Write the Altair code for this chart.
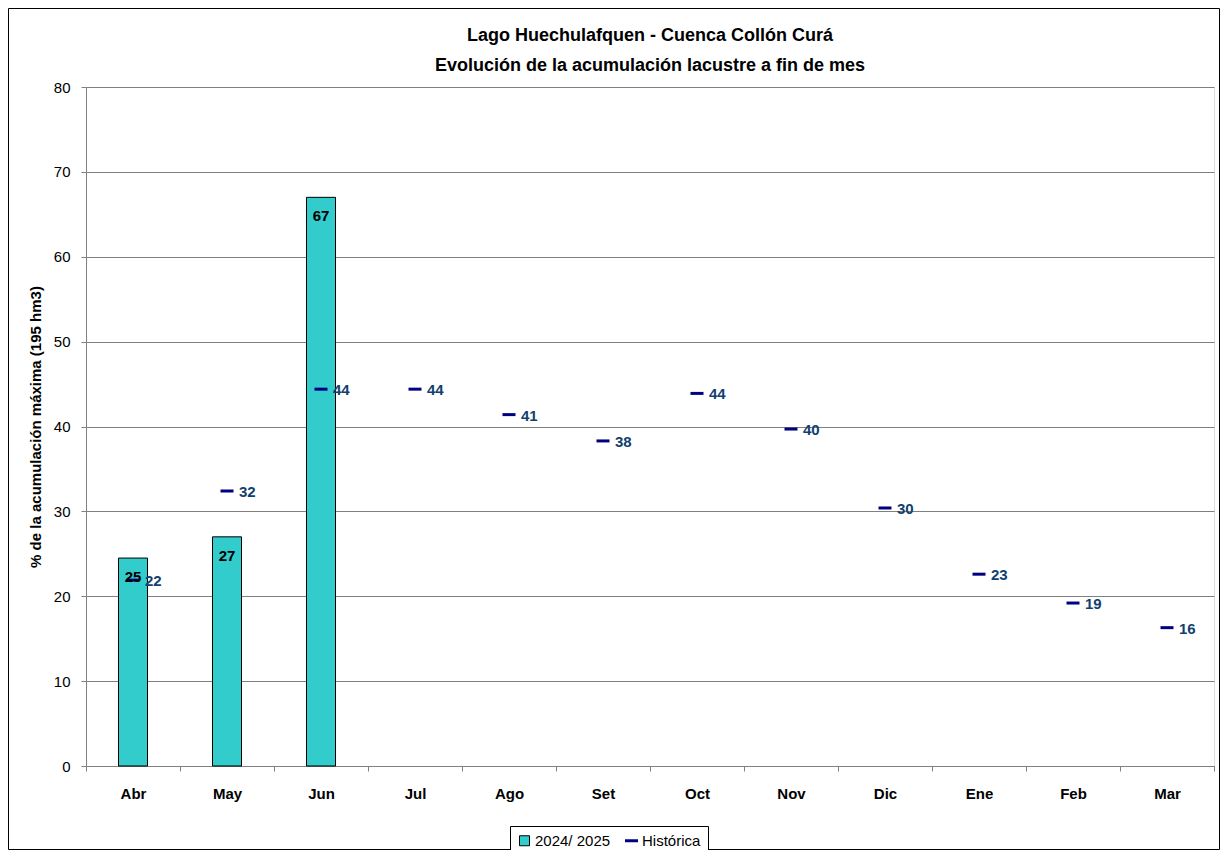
import altair as alt
import pandas as pd

months = ["Abr", "May", "Jun", "Jul", "Ago", "Set", "Oct", "Nov", "Dic", "Ene", "Feb", "Mar"]
bar_months = ["Abr", "May", "Jun"]
bar_values = [24.5, 27.0, 67.0]
hist_values = [21.9, 32.4, 44.4, 44.4, 41.4, 38.3, 43.9, 39.7, 30.4, 22.6, 19.2, 16.3]
series_names = ["2024/ 2025", "Histórica"]
title_lines = ["Lago Huechulafquen - Cuenca Collón Curá", "Evolución de la acumulación lacustre a fin de mes"]
y_title = "% de la acumulación máxima (195 hm3)"

FONT = "Liberation Sans"
TEAL = "#33CCCC"
NAVY = "#000080"
LABEL_BLUE = "#123F6E"

bars = pd.DataFrame({"mes": bar_months, "valor": bar_values, "serie": series_names[0]})
hist = pd.DataFrame({"mes": months, "valor": hist_values, "serie": series_names[1]})

W, H = 1128, 679
PAD = {"left": 78, "top": 79, "right": 6, "bottom": 84}

x_enc = alt.X(
    "mes:N",
    sort=months,
    scale=alt.Scale(domain=months, paddingInner=0, paddingOuter=0),
    axis=alt.Axis(
        title=None, labelAngle=0, tickBand="extent", tickSize=5, tickColor="#808080",
        domainColor="#808080", labelFont=FONT, labelFontSize=15, labelFontWeight="bold",
        labelColor="black", labelPadding=15,
    ),
)
y_enc = alt.Y(
    "valor:Q",
    scale=alt.Scale(domain=[0, 80], nice=False),
    axis=alt.Axis(
        title=y_title, values=list(range(0, 81, 10)), tickSize=5, tickColor="#808080",
        domainColor="#808080", gridColor="#808080", gridWidth=1, labelFont=FONT,
        labelFontSize=15, labelColor="black", labelPadding=11, titleFont=FONT,
        titleFontSize=15, titleFontWeight="bold", titleColor="black", titlePadding=10,
    ),
)

is_hist = "datum.value === 'Histórica'"
color_scale = alt.Scale(domain=series_names, range=[TEAL, NAVY])
legend = alt.Legend(
    orient="none", legendX=424, legendY=739, direction="horizontal", title=None,
    strokeColor="black", fillColor="white", padding=7, labelFont=FONT, labelFontSize=15,
    labelColor="black", columnPadding=8, labelOffset=3, symbolOpacity=1,
    symbolType={"expr": f"{is_hist} ? 'stroke' : 'square'"},
    symbolStrokeColor={"expr": f"{is_hist} ? '#000080' : 'black'"},
    symbolStrokeWidth={"expr": f"{is_hist} ? 3 : 1"},
    symbolSize={"expr": f"{is_hist} ? 169 : 100"},
)

bar_fill = alt.Chart(bars).mark_bar(size=29, opacity=1).encode(
    x=x_enc, y=y_enc,
    color=alt.Color("serie:N", scale=color_scale, legend=legend),
)
bar_outline = alt.Chart(bars).mark_bar(size=29, fill="transparent", stroke="black", strokeWidth=1).encode(
    x=x_enc, y=y_enc,
)
tick_layer = alt.Chart(hist).mark_tick(size=13, thickness=3, opacity=1).encode(
    x=x_enc, y=y_enc,
    color=alt.Color("serie:N", scale=color_scale, legend=legend),
)
hist_labels = alt.Chart(hist).mark_text(
    align="left", baseline="middle", dx=12, dy=1, font=FONT, fontSize=15,
    fontWeight="bold", color=LABEL_BLUE,
).encode(x=x_enc, y=y_enc, text=alt.Text("valor:Q", format=".0f"))
bar_labels = alt.Chart(bars).mark_text(
    align="center", baseline="top", dy=12, font=FONT, fontSize=15,
    fontWeight="bold", color="black",
).encode(x=x_enc, y=y_enc, text=alt.Text("valor:Q", format=".0f"))

frame = alt.Chart(pd.DataFrame({"a": [0]})).mark_rect(
    filled=False, stroke="black", strokeWidth=1
).encode(
    x=alt.value(-PAD["left"] + 0.5), x2=alt.value(W + PAD["right"] - 0.5),
    y=alt.value(-PAD["top"] + 0.5), y2=alt.value(H + PAD["bottom"] - 0.5),
)

chart = alt.layer(frame, bar_fill, bar_outline, tick_layer, hist_labels, bar_labels).properties(
    width=W, height=H,
    title=alt.TitleParams(
        text=title_lines, font=FONT, fontSize=18, fontWeight="bold", color="black",
        anchor="middle", lineHeight=30, offset=-67,
    ),
    padding=PAD,
    autosize=alt.AutoSizeParams(type="none"),
).configure_view(stroke="#808080", strokeWidth=1).configure(background="white")

chart.save("out.html", embed_options={"renderer": "svg", "actions": False})
